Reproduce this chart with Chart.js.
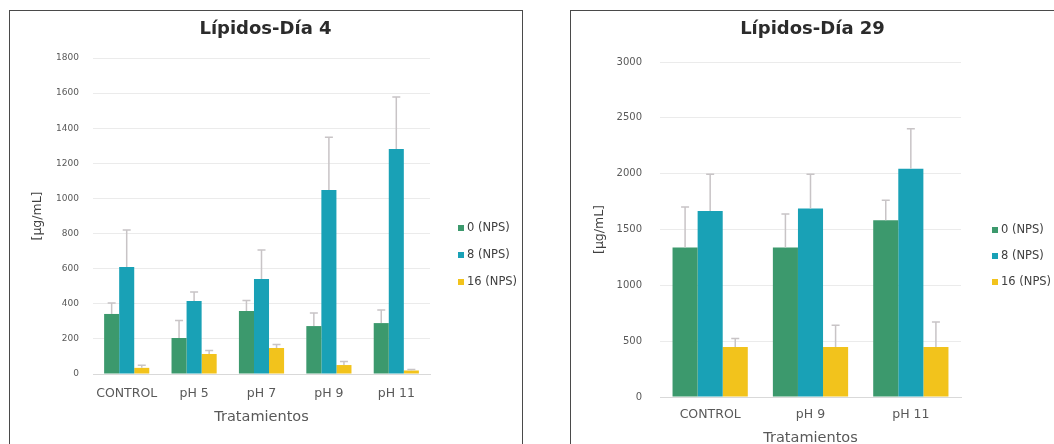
<!DOCTYPE html>
<html>
<head>
<meta charset="utf-8">
<script src="https://cdn.jsdelivr.net/npm/chart.js@4.4.1/dist/chart.umd.min.js"></script>
<style>
  html, body { margin: 0; padding: 0; background: #fff; overflow: hidden; width: 1054px; height: 444px; }
  .panel { position: absolute; border: 1px solid #4a4a4a; box-sizing: border-box; background: #fff; }
  #p1 { left: 9px; top: 10px; width: 514px; height: 470px; }
  #p2 { left: 570px; top: 10px; width: 500px; height: 470px; }
  canvas { position: absolute; left: 0; top: 0; }
</style>
</head>
<body>
<div class="panel" id="p1"><canvas id="c1" width="511" height="445"></canvas></div>
<div class="panel" id="p2"><canvas id="c2" width="483" height="445"></canvas></div>
<script>
// ---- Día 4 ----
const categoriasDia4 = ['CONTROL', 'pH 5', 'pH 7', 'pH 9', 'pH 11'];
const serie0Dia4 = [342, 205, 359, 273, 290];
const serie8Dia4 = [610, 416, 541, 1048, 1282];
const serie16Dia4 = [35, 114, 148, 51, 20];
const error0Dia4 = [62, 100, 60, 75, 75];
const error8Dia4 = [210, 51, 165, 300, 296];
const error16Dia4 = [15, 20, 20, 20, 5];
const ticksDia4 = [0, 200, 400, 600, 800, 1000, 1200, 1400, 1600, 1800];

// ---- Día 29 ----
const categoriasDia29 = ['CONTROL', 'pH 9', 'pH 11'];
const serie0Dia29 = [1338, 1338, 1582];
const serie8Dia29 = [1666, 1687, 2045];
const serie16Dia29 = [448, 448, 448];
const error0Dia29 = [364, 300, 180];
const error8Dia29 = [328, 307, 358];
const error16Dia29 = [77, 194, 224];
const ticksDia29 = [0, 500, 1000, 1500, 2000, 2500, 3000];

const etiquetasSerie = ['0 (NPS)', '8 (NPS)', '16 (NPS)'];
const coloresSerie = ['#3c996d', '#19a1b6', '#f2c31c'];

const FONT = "'DejaVu Sans', Verdana, sans-serif";
const GREY = '#595959';

// Upper error whiskers, positioned through the y scale
const errorBars = {
  id: 'errorBars',
  afterDatasetsDraw(chart) {
    const { ctx } = chart;
    const y = chart.scales.y;
    ctx.save();
    ctx.strokeStyle = '#c8c4c6';
    ctx.lineWidth = 1.5;
    chart.data.datasets.forEach((ds, i) => {
      const meta = chart.getDatasetMeta(i);
      meta.data.forEach((bar, j) => {
        const top = y.getPixelForValue(ds.data[j] + ds.errores[j]);
        ctx.beginPath();
        ctx.moveTo(bar.x, bar.y);
        ctx.lineTo(bar.x, top);
        ctx.moveTo(bar.x - 4, top);
        ctx.lineTo(bar.x + 4, top);
        ctx.stroke();
      });
    });
    ctx.restore();
  }
};

// Chart title centred on the whole canvas
const tituloCentrado = {
  id: 'tituloCentrado',
  afterDraw(chart, args, opts) {
    const { ctx } = chart;
    ctx.save();
    ctx.font = 'bold 18px ' + FONT;
    ctx.fillStyle = '#2b2b2b';
    ctx.textAlign = 'center';
    ctx.textBaseline = 'middle';
    ctx.fillText(opts.texto, chart.width / 2, opts.y);
    ctx.restore();
  }
};

// Legend drawn beside the plot: small square + label
const sideLegend = {
  id: 'sideLegend',
  afterDraw(chart, args, opts) {
    const { ctx } = chart;
    ctx.save();
    ctx.font = '11.5px ' + FONT;
    ctx.textBaseline = 'middle';
    chart.data.datasets.forEach((ds, i) => {
      const yy = opts.y0 + i * opts.step;
      ctx.fillStyle = ds.backgroundColor;
      ctx.fillRect(opts.x, yy - 3, 6, 6);
      ctx.fillStyle = '#404040';
      ctx.fillText(ds.label, opts.x + 9, yy);
    });
    ctx.restore();
  }
};

function crearGrafico(id, p) {
  const datasets = p.series.map((s, i) => ({
    label: etiquetasSerie[i],
    data: s,
    errores: p.errores[i],
    backgroundColor: coloresSerie[i],
    borderWidth: 0,
    categoryPercentage: p.grupo,
    barPercentage: 1
  }));
  return new Chart(document.getElementById(id), {
    type: 'bar',
    data: { labels: p.categorias, datasets },
    plugins: [errorBars, sideLegend, tituloCentrado],
    options: {
      responsive: false,
      animation: false,
      layout: { padding: { top: p.arriba, left: 0, bottom: 0, right: p.derecha } },
      plugins: {
        legend: { display: false },
        tooltip: { enabled: false },
        title: { display: false },
        tituloCentrado: { texto: p.titulo, y: 18 },
        sideLegend: p.leyenda
      },
      scales: {
        x: {
          grid: { display: false, drawTicks: false },
          border: { display: true, color: '#d9d9d9' },
          ticks: {
            color: GREY,
            font: { family: FONT, size: 12.5 },
            padding: p.xPad,
            maxRotation: 0,
            minRotation: 0,
            autoSkip: false
          },
          title: {
            display: true,
            text: 'Tratamientos',
            color: GREY,
            font: { family: FONT, size: 14.5 },
            padding: { top: 0, bottom: p.xTituloPad }
          },
          afterFit: s => { s.height = p.xAlto; }
        },
        y: {
          min: 0,
          max: p.ticks[p.ticks.length - 1],
          grid: { color: '#ebebeb', drawTicks: false },
          border: { display: false },
          afterBuildTicks: s => { s.ticks = p.ticks.map(v => ({ value: v })); },
          ticks: {
            color: GREY,
            font: { family: FONT, size: p.tickFuente },
            padding: p.yPad,
            callback: v => String(v)
          },
          title: {
            display: true,
            text: '[µg/mL]',
            color: '#404040',
            font: { family: FONT, size: 12.5 },
            padding: { top: p.yTituloPad, bottom: 0 }
          },
          afterFit: s => { s.width = p.yAncho; }
        }
      }
    }
  });
}

crearGrafico('c1', {
  titulo: 'Lípidos-Día 4',
  categorias: categoriasDia4,
  series: [serie0Dia4, serie8Dia4, serie16Dia4],
  errores: [error0Dia4, error8Dia4, error16Dia4],
  ticks: ticksDia4,
  grupo: 0.67,
  arriba: 47,
  derecha: 91,
  xAlto: 82,
  xPad: 12,
  xTituloPad: 30,
  yAncho: 83,
  yPad: 14,
  yTituloPad: 20,
  tickFuente: 9,
  leyenda: { x: 448, y0: 217, step: 27 }
});

crearGrafico('c2', {
  titulo: 'Lípidos-Día 29',
  categorias: categoriasDia29,
  series: [serie0Dia29, serie8Dia29, serie16Dia29],
  errores: [error0Dia29, error8Dia29, error16Dia29],
  ticks: ticksDia29,
  grupo: 0.75,
  arriba: 51,
  derecha: 93,
  xAlto: 59,
  xPad: 10,
  xTituloPad: 9,
  yAncho: 89,
  yPad: 18,
  yTituloPad: 21,
  tickFuente: 10,
  leyenda: { x: 421, y0: 219, step: 26 }
});
</script>
</body>
</html>
